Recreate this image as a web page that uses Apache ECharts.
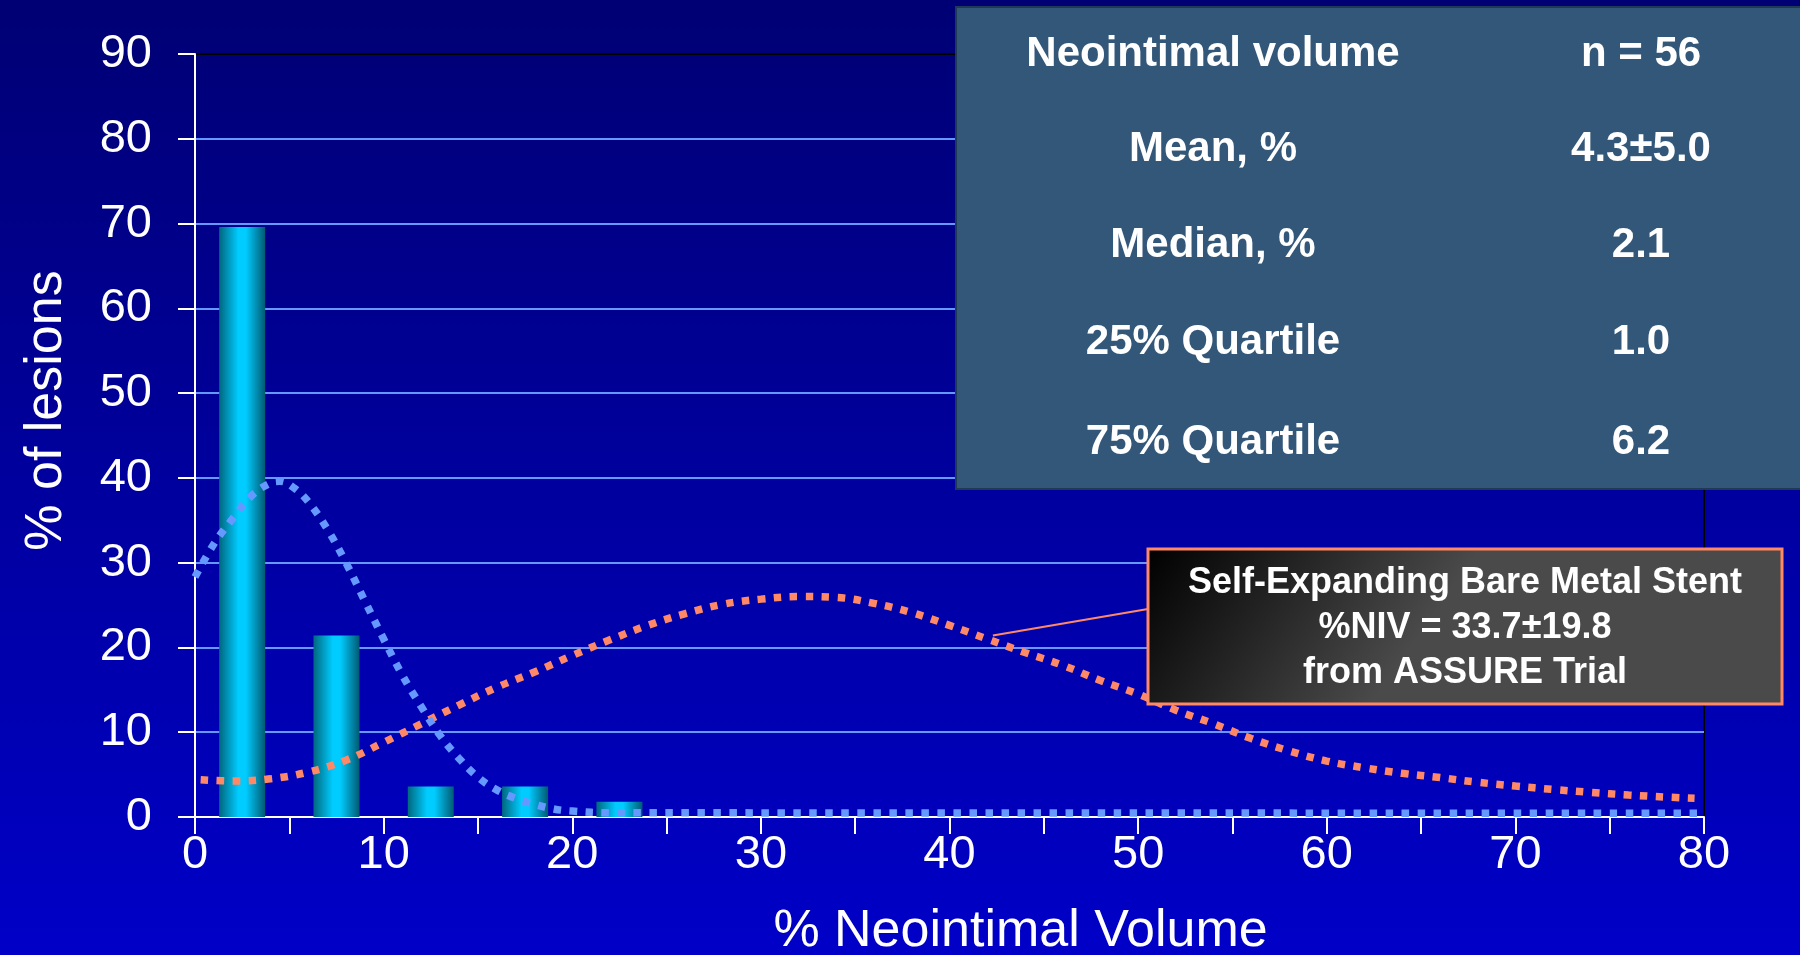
<!DOCTYPE html>
<html>
<head>
<meta charset="utf-8">
<title>% Neointimal Volume</title>
<script src="https://cdn.jsdelivr.net/npm/echarts@6/dist/echarts.min.js"></script>
<style>
  html, body { margin: 0; padding: 0; width: 1800px; height: 955px; overflow: hidden; background: #0000a0; }
  #chart { width: 1800px; height: 955px; }
</style>
</head>
<body>
<div id="chart"></div>
<script>
// Histogram of lesions by % neointimal volume (5-point bins)
const binCenters = [2.5, 7.5, 12.5, 17.5, 22.5];
const lesionPct = [69.6, 21.4, 3.6, 3.6, 1.8];

// Fitted distribution of the study stent
const studyCurveX = [0, 1, 2, 3, 4, 4.5, 5.2, 6, 7, 8, 9, 10, 11, 12, 13, 14, 15, 16, 17, 18, 19, 20, 22, 80];
const studyCurveY = [28.3, 32.2, 35.2, 37.9, 39.4, 39.6, 38.9, 37.2, 34.0, 30.0, 25.5, 21.0, 16.7, 13.0, 9.6, 6.9, 4.7, 3.2, 2.2, 1.5, 0.95, 0.7, 0.5, 0.45];

// Distribution of the self-expanding bare metal stent (ASSURE)
const bmsCurveX = [0.3, 2, 4, 6, 8, 10, 12, 14, 16, 18, 20, 22, 24, 26, 28, 30, 32, 34, 36, 38, 40, 42, 44, 46, 48, 50, 52, 54, 56, 58, 60, 62, 64, 66, 68, 70, 72, 74, 76, 78, 79.5];
const bmsCurveY = [4.4, 4.25, 4.5, 5.3, 6.7, 8.8, 11.0, 13.2, 15.3, 17.1, 19.05, 20.9, 22.6, 24.0, 25.1, 25.7, 26.0, 25.9, 25.2, 24.1, 22.6, 21.0, 19.4, 17.9, 16.1, 14.5, 12.6, 11.0, 9.25, 7.8, 6.6, 5.8, 5.15, 4.65, 4.1, 3.65, 3.25, 2.9, 2.6, 2.35, 2.2];

// Axis ranges
const xRange = { min: 0, max: 80, step: 5, labelStep: 10 };
const yRange = { min: 0, max: 90, step: 10 };

// Summary table rows
const tableLabels = ['Neointimal volume', 'Mean, %', 'Median, %', '25% Quartile', '75% Quartile'];
const tableValues = ['n = 56', '4.3\u00B15.0', '2.1', '1.0', '6.2'];

// Callout text
const calloutLines = ['Self-Expanding Bare Metal Stent', '%NIV = 33.7\u00B119.8', 'from ASSURE Trial'];
const calloutAnchor = [42.3, 21.4];

const FONT = '"Liberation Sans", Arial, Helvetica, sans-serif';
const CORAL = '#FF8866';
const DOT_BLUE = '#6699FF';

const zip = (xs, ys) => xs.map((x, i) => [x, ys[i]]);

const chart = echarts.init(document.getElementById('chart'), null, { renderer: 'canvas' });

const splitColors = [];
for (let v = yRange.min; v <= yRange.max; v += yRange.step) {
  splitColors.push(v === yRange.max ? '#000000' : DOT_BLUE);
}

const barGradient = new echarts.graphic.LinearGradient(0, 0, 1, 0, [
  { offset: 0, color: '#00677f' },
  { offset: 0.42, color: '#00ccff' },
  { offset: 0.58, color: '#00ccff' },
  { offset: 1, color: '#005a72' }
]);

const option = {
  animation: false,
  backgroundColor: {
    type: 'linear', x: 0, y: 0, x2: 0, y2: 1,
    colorStops: [{ offset: 0, color: '#000074' }, { offset: 1, color: '#0000C8' }]
  },
  grid: {
    left: 195, right: 96, top: 54, bottom: 138,
    containLabel: false, outerBoundsMode: 'none',
    show: true, borderColor: '#000000', borderWidth: 2, backgroundColor: 'transparent'
  },
  xAxis: {
    type: 'value', min: xRange.min, max: xRange.max, interval: xRange.step,
    axisLine: { show: true, onZero: false, lineStyle: { color: '#ffffff', width: 2 } },
    axisTick: { show: true, length: 17, lineStyle: { color: '#ffffff', width: 2 } },
    axisLabel: {
      color: '#ffffff', fontSize: 47, fontFamily: FONT, margin: 15,
      formatter: v => (v % xRange.labelStep === 0 ? String(v) : '')
    },
    splitLine: { show: false },
    name: '% Neointimal Volume', nameLocation: 'middle', nameGap: 89,
    nameTextStyle: { color: '#ffffff', fontSize: 52, fontFamily: FONT, padding: [0, 0, 0, 142] }
  },
  yAxis: {
    type: 'value', min: yRange.min, max: yRange.max, interval: yRange.step,
    axisLine: { show: true, onZero: false, lineStyle: { color: '#ffffff', width: 2 } },
    axisTick: { show: true, length: 17, lineStyle: { color: '#ffffff', width: 2 } },
    axisLabel: { color: '#ffffff', fontSize: 47, fontFamily: FONT, margin: 43 },
    splitLine: { show: true, lineStyle: { color: splitColors, width: 2 } },
    name: '% of lesions', nameLocation: 'middle', nameGap: 122, nameRotate: 90,
    nameTextStyle: { color: '#ffffff', fontSize: 52, fontFamily: FONT, padding: [0, 0, 0, 50] }
  },
  series: [
    {
      type: 'bar', name: 'Lesions',
      data: zip(binCenters, lesionPct),
      barWidth: 46,
      itemStyle: { color: barGradient },
      z: 2
    },
    {
      type: 'line', name: 'Self-expanding BMS',
      data: zip(bmsCurveX, bmsCurveY),
      smooth: 0.4, showSymbol: false, symbol: 'none',
      lineStyle: { color: CORAL, width: 7.5, type: [7.5, 8.5], cap: 'butt' },
      z: 3
    },
    {
      type: 'line', name: 'Study stent',
      data: zip(studyCurveX, studyCurveY),
      smooth: 0.4, showSymbol: false, symbol: 'none',
      lineStyle: { color: DOT_BLUE, width: 7.5, type: [7.5, 8.5], cap: 'butt' },
      z: 4
    }
  ]
};

chart.setOption(option);

// Overlays: summary table, callout box and its leader line
const rowY = [54, 149, 245, 342, 442];
const graphics = [];
graphics.push({
  type: 'rect', z: 100,
  shape: { x: 956, y: 7, width: 860, height: 482 },
  style: { fill: '#335779', stroke: '#1e3a55', lineWidth: 2 }
});
tableLabels.forEach((t, i) => {
  graphics.push({
    type: 'text', z: 101,
    style: { text: t, x: 1213, y: rowY[i], fill: '#ffffff', font: 'bold 42px ' + FONT, align: 'center', verticalAlign: 'middle' }
  });
  graphics.push({
    type: 'text', z: 101,
    style: { text: tableValues[i], x: 1641, y: rowY[i], fill: '#ffffff', font: 'bold 42px ' + FONT, align: 'center', verticalAlign: 'middle' }
  });
});

const anchorPx = chart.convertToPixel({ gridIndex: 0 }, calloutAnchor);
graphics.push({
  type: 'line', z: 99,
  shape: { x1: anchorPx[0], y1: anchorPx[1], x2: 1148, y2: 609 },
  style: { stroke: CORAL, lineWidth: 2 }
});
graphics.push({
  type: 'rect', z: 100,
  shape: { x: 1148, y: 549, width: 634, height: 155 },
  style: {
    fill: new echarts.graphic.LinearGradient(0, 0, 0.35, 1, [
      { offset: 0, color: '#000000' },
      { offset: 1, color: '#4a4a4a' }
    ]),
    stroke: CORAL, lineWidth: 3
  }
});
const calloutY = [583, 628, 673];
calloutLines.forEach((t, i) => {
  graphics.push({
    type: 'text', z: 101,
    style: { text: t, x: 1465, y: calloutY[i], fill: '#ffffff', font: 'bold 36px ' + FONT, align: 'center', verticalAlign: 'middle' }
  });
});

chart.setOption({ graphic: { elements: graphics } });
</script>
</body>
</html>
